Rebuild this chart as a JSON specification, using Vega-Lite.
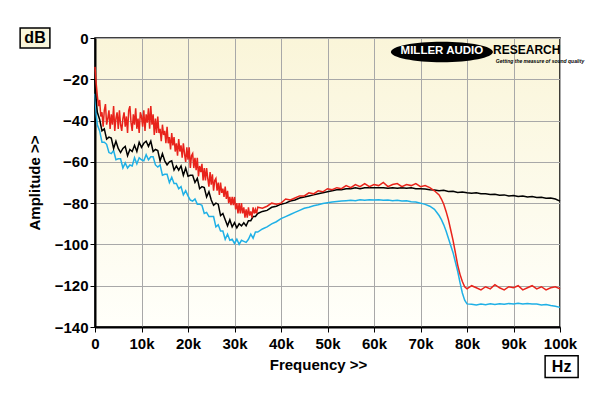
{
"$schema": "https://vega.github.io/schema/vega-lite/v6.json",
"width": 465, "height": 289,
"autosize": "none",
"padding": {"left": 95, "top": 38, "right": 40, "bottom": 69},
"background": "white",
"config": {
 "font": "Liberation Sans",
 "view": {"fill": {"gradient": "linear", "x1": 0, "y1": 0, "x2": 0, "y2": 1, "stops": [{"offset": 0, "color": "#faf5d9"}, {"offset": 1, "color": "#fffffa"}]}, "stroke": "black", "strokeWidth": 1.5},
 "axis": {"gridColor": "#a8a8a8", "gridWidth": 1, "domainColor": "black", "domainWidth": 2, "tickColor": "black", "tickSize": 5, "labelFont": "Liberation Sans", "labelFontWeight": "bold", "labelFontSize": 15, "labelColor": "black", "titleFont": "Liberation Sans", "titleFontWeight": "bold", "titleFontSize": 15, "titleColor": "black"}
},
"datasets": {
"cyan": [{"f":0,"d":-27},{"f":0.25,"d":-37},{"f":0.5,"d":-42},{"f":1,"d":-45},{"f":1.5,"d":-50.5},{"f":2,"d":-50.5},{"f":2.5,"d":-51.5},{"f":3,"d":-55.5},{"f":3.5,"d":-56},{"f":4,"d":-54.5},{"f":4.5,"d":-59},{"f":5,"d":-58.5},{"f":5.5,"d":-58.5},{"f":6,"d":-63},{"f":6.5,"d":-60.5},{"f":7,"d":-63},{"f":7.5,"d":-61.5},{"f":8,"d":-62},{"f":8.5,"d":-58},{"f":9,"d":-61},{"f":9.5,"d":-58},{"f":10,"d":-59},{"f":10.5,"d":-59.5},{"f":11,"d":-56.5},{"f":11.5,"d":-59},{"f":12,"d":-57.5},{"f":12.5,"d":-57.5},{"f":13,"d":-61.5},{"f":13.5,"d":-62.5},{"f":14,"d":-61.5},{"f":14.5,"d":-66.5},{"f":15,"d":-66},{"f":15.5,"d":-66},{"f":16,"d":-70},{"f":16.5,"d":-67.5},{"f":17,"d":-70.5},{"f":17.5,"d":-70.5},{"f":18,"d":-73},{"f":18.5,"d":-72},{"f":19,"d":-76},{"f":19.5,"d":-74},{"f":20,"d":-76.5},{"f":20.5,"d":-78.5},{"f":21,"d":-79},{"f":21.5,"d":-78},{"f":22,"d":-80.5},{"f":22.5,"d":-80.5},{"f":23,"d":-81},{"f":23.5,"d":-85},{"f":24,"d":-84.5},{"f":24.5,"d":-86.5},{"f":25,"d":-86.5},{"f":25.5,"d":-86.5},{"f":26,"d":-91.5},{"f":26.5,"d":-90.5},{"f":27,"d":-93.5},{"f":27.5,"d":-93.5},{"f":28,"d":-97.5},{"f":28.5,"d":-95},{"f":29,"d":-98},{"f":29.5,"d":-97.5},{"f":30,"d":-99.5},{"f":30.5,"d":-97.5},{"f":31,"d":-100},{"f":31.5,"d":-98},{"f":32,"d":-98.5},{"f":32.5,"d":-99},{"f":33,"d":-97.5},{"f":33.5,"d":-95},{"f":34,"d":-97},{"f":34.5,"d":-94},{"f":35,"d":-94},{"f":36,"d":-92.5},{"f":37,"d":-91.5},{"f":38,"d":-90},{"f":39,"d":-89},{"f":40,"d":-87.5},{"f":41,"d":-86.5},{"f":42,"d":-85.5},{"f":43,"d":-84.5},{"f":44,"d":-83.5},{"f":45,"d":-82.5},{"f":46,"d":-82},{"f":47,"d":-81.3},{"f":48,"d":-80.8},{"f":49,"d":-80.2},{"f":50,"d":-79.8},{"f":51,"d":-79.5},{"f":52,"d":-79.2},{"f":53,"d":-79},{"f":54,"d":-78.8},{"f":55,"d":-78.6},{"f":56,"d":-78.8},{"f":57,"d":-78.4},{"f":58,"d":-78.6},{"f":59,"d":-78.3},{"f":60,"d":-78.5},{"f":61,"d":-78.3},{"f":62,"d":-78.6},{"f":63,"d":-78.5},{"f":64,"d":-78.8},{"f":65,"d":-78.6},{"f":66,"d":-79},{"f":67,"d":-78.9},{"f":68,"d":-79.3},{"f":69,"d":-79.5},{"f":70,"d":-80},{"f":71,"d":-80.6},{"f":72,"d":-81.5},{"f":73,"d":-83},{"f":74,"d":-86},{"f":74.5,"d":-88},{"f":75,"d":-90.5},{"f":75.5,"d":-93.5},{"f":76,"d":-97},{"f":76.5,"d":-100.5},{"f":77,"d":-104},{"f":77.5,"d":-108.5},{"f":78,"d":-113},{"f":78.5,"d":-118.5},{"f":79,"d":-123.5},{"f":79.5,"d":-127},{"f":80,"d":-128.8},{"f":81,"d":-129},{"f":82,"d":-129.3},{"f":83,"d":-128.9},{"f":84,"d":-129.2},{"f":85,"d":-128.8},{"f":86,"d":-129.1},{"f":87,"d":-128.7},{"f":88,"d":-129},{"f":89,"d":-128.6},{"f":90,"d":-128.8},{"f":91,"d":-128.5},{"f":92,"d":-128.9},{"f":93,"d":-128.6},{"f":94,"d":-128.8},{"f":95,"d":-128.9},{"f":96,"d":-129.3},{"f":97,"d":-129.1},{"f":98,"d":-129.6},{"f":99,"d":-129.9},{"f":100,"d":-130.5}],
"black": [{"f":0,"d":-20},{"f":0.25,"d":-30},{"f":0.5,"d":-36},{"f":1,"d":-39.5},{"f":1.5,"d":-45},{"f":2,"d":-44},{"f":2.5,"d":-49},{"f":3,"d":-48},{"f":3.5,"d":-48.5},{"f":4,"d":-53.5},{"f":4.5,"d":-50},{"f":5,"d":-53.5},{"f":5.5,"d":-55.5},{"f":6,"d":-53.5},{"f":6.5,"d":-52.5},{"f":7,"d":-57},{"f":7.5,"d":-54},{"f":8,"d":-55},{"f":8.5,"d":-52},{"f":9,"d":-55},{"f":9.5,"d":-50.5},{"f":10,"d":-53},{"f":10.5,"d":-51},{"f":11,"d":-50},{"f":11.5,"d":-52.5},{"f":12,"d":-50},{"f":12.5,"d":-55},{"f":13,"d":-54},{"f":13.5,"d":-54.5},{"f":14,"d":-59.5},{"f":14.5,"d":-56},{"f":15,"d":-59.5},{"f":15.5,"d":-61.5},{"f":16,"d":-60},{"f":16.5,"d":-59.5},{"f":17,"d":-64},{"f":17.5,"d":-62},{"f":18,"d":-64},{"f":18.5,"d":-62},{"f":19,"d":-66.5},{"f":19.5,"d":-63},{"f":20,"d":-67},{"f":20.5,"d":-66.5},{"f":21,"d":-66.5},{"f":21.5,"d":-70},{"f":22,"d":-68},{"f":22.5,"d":-73},{"f":23,"d":-72},{"f":23.5,"d":-72.5},{"f":24,"d":-77},{"f":24.5,"d":-74.5},{"f":25,"d":-78.5},{"f":25.5,"d":-81},{"f":26,"d":-80},{"f":26.5,"d":-80.5},{"f":27,"d":-86},{"f":27.5,"d":-85},{"f":28,"d":-88},{"f":28.5,"d":-91},{"f":29,"d":-88},{"f":29.5,"d":-91.5},{"f":30,"d":-89.5},{"f":30.5,"d":-92},{"f":31,"d":-90},{"f":31.5,"d":-91},{"f":32,"d":-89.5},{"f":32.5,"d":-91},{"f":33,"d":-88.5},{"f":33.5,"d":-88.5},{"f":34,"d":-86.5},{"f":34.5,"d":-86.5},{"f":35,"d":-85},{"f":36,"d":-84},{"f":37,"d":-83.5},{"f":38,"d":-82},{"f":39,"d":-81.5},{"f":40,"d":-80.5},{"f":41,"d":-80},{"f":42,"d":-79},{"f":43,"d":-78.5},{"f":44,"d":-77.5},{"f":45,"d":-77},{"f":46,"d":-76.5},{"f":47,"d":-76},{"f":48,"d":-75.5},{"f":49,"d":-75},{"f":50,"d":-74.5},{"f":51,"d":-74},{"f":52,"d":-73.5},{"f":53,"d":-73.5},{"f":54,"d":-73},{"f":55,"d":-73},{"f":56,"d":-72.5},{"f":57,"d":-73},{"f":58,"d":-72.5},{"f":59,"d":-72.5},{"f":60,"d":-72.5},{"f":61,"d":-72.5},{"f":62,"d":-72.5},{"f":63,"d":-72.8},{"f":64,"d":-72.5},{"f":65,"d":-72.8},{"f":66,"d":-72.5},{"f":67,"d":-72.8},{"f":68,"d":-72.6},{"f":69,"d":-73},{"f":70,"d":-73},{"f":71,"d":-73.2},{"f":72,"d":-73.5},{"f":73,"d":-73.6},{"f":74,"d":-74},{"f":75,"d":-73.8},{"f":76,"d":-74.3},{"f":77,"d":-74.2},{"f":78,"d":-74.8},{"f":79,"d":-74.6},{"f":80,"d":-75},{"f":81,"d":-75.2},{"f":82,"d":-75},{"f":83,"d":-75.5},{"f":84,"d":-75.4},{"f":85,"d":-75.8},{"f":86,"d":-75.7},{"f":87,"d":-76.2},{"f":88,"d":-76},{"f":89,"d":-76.5},{"f":90,"d":-76.3},{"f":91,"d":-76.8},{"f":92,"d":-76.6},{"f":93,"d":-77},{"f":94,"d":-76.8},{"f":95,"d":-77.3},{"f":96,"d":-77.2},{"f":97,"d":-77.6},{"f":98,"d":-77.5},{"f":99,"d":-78},{"f":100,"d":-79}],
"red": [{"f":0,"d":-14},{"f":0.25,"d":-22},{"f":0.5,"d":-28},{"f":0.75,"d":-33},{"f":1,"d":-30},{"f":1.25,"d":-38},{"f":1.5,"d":-36},{"f":1.75,"d":-43},{"f":2,"d":-35},{"f":2.25,"d":-32},{"f":2.5,"d":-42},{"f":2.75,"d":-39},{"f":3,"d":-35},{"f":3.25,"d":-44},{"f":3.5,"d":-37},{"f":3.75,"d":-42},{"f":4,"d":-33},{"f":4.25,"d":-45},{"f":4.5,"d":-39},{"f":4.75,"d":-36},{"f":5,"d":-44},{"f":5.25,"d":-35},{"f":5.5,"d":-42},{"f":5.75,"d":-45},{"f":6,"d":-39},{"f":6.25,"d":-36},{"f":6.5,"d":-43},{"f":6.75,"d":-38},{"f":7,"d":-46},{"f":7.25,"d":-35},{"f":7.5,"d":-33},{"f":7.75,"d":-41},{"f":8,"d":-45},{"f":8.25,"d":-37},{"f":8.5,"d":-42},{"f":8.75,"d":-34},{"f":9,"d":-44},{"f":9.25,"d":-39},{"f":9.5,"d":-46},{"f":9.75,"d":-36},{"f":10,"d":-38},{"f":10.25,"d":-43},{"f":10.5,"d":-35},{"f":10.75,"d":-45},{"f":11,"d":-37},{"f":11.25,"d":-41},{"f":11.5,"d":-34},{"f":11.75,"d":-44},{"f":12,"d":-33},{"f":12.25,"d":-42},{"f":12.5,"d":-37},{"f":12.75,"d":-47},{"f":13,"d":-39},{"f":13.25,"d":-46},{"f":13.5,"d":-38},{"f":13.75,"d":-46},{"f":14,"d":-44},{"f":14.25,"d":-50},{"f":14.5,"d":-42},{"f":14.75,"d":-47},{"f":15,"d":-45},{"f":15.25,"d":-51},{"f":15.5,"d":-43},{"f":15.75,"d":-51},{"f":16,"d":-48},{"f":16.25,"d":-54},{"f":16.5,"d":-46},{"f":16.75,"d":-52},{"f":17,"d":-48},{"f":17.25,"d":-55},{"f":17.5,"d":-51},{"f":17.75,"d":-57},{"f":18,"d":-49},{"f":18.25,"d":-55},{"f":18.5,"d":-52},{"f":18.75,"d":-58},{"f":19,"d":-51},{"f":19.25,"d":-56},{"f":19.5,"d":-60},{"f":19.75,"d":-53},{"f":20,"d":-59},{"f":20.25,"d":-53},{"f":20.5,"d":-63},{"f":20.75,"d":-57},{"f":21,"d":-56},{"f":21.25,"d":-63},{"f":21.5,"d":-58},{"f":21.75,"d":-64},{"f":22,"d":-58},{"f":22.25,"d":-67},{"f":22.5,"d":-62},{"f":22.75,"d":-65},{"f":23,"d":-61},{"f":23.25,"d":-69},{"f":23.5,"d":-63},{"f":23.75,"d":-69},{"f":24,"d":-63},{"f":24.25,"d":-68},{"f":24.5,"d":-72},{"f":24.75,"d":-65},{"f":25,"d":-71},{"f":25.25,"d":-66},{"f":25.5,"d":-74},{"f":25.75,"d":-69},{"f":26,"d":-68},{"f":26.25,"d":-74},{"f":26.5,"d":-70},{"f":26.75,"d":-76},{"f":27,"d":-70},{"f":27.25,"d":-75},{"f":27.5,"d":-73},{"f":27.75,"d":-77},{"f":28,"d":-72},{"f":28.25,"d":-78},{"f":28.5,"d":-74},{"f":28.75,"d":-80},{"f":29,"d":-77},{"f":29.25,"d":-81},{"f":29.5,"d":-77},{"f":29.75,"d":-81},{"f":30,"d":-77},{"f":30.25,"d":-83},{"f":30.5,"d":-80},{"f":30.75,"d":-85},{"f":31,"d":-80},{"f":31.25,"d":-85},{"f":31.5,"d":-80},{"f":31.75,"d":-85},{"f":32,"d":-82},{"f":32.25,"d":-87},{"f":32.5,"d":-83},{"f":32.75,"d":-87},{"f":33,"d":-82},{"f":33.25,"d":-86},{"f":33.5,"d":-84},{"f":33.75,"d":-87},{"f":34,"d":-82},{"f":34.25,"d":-85},{"f":34.5,"d":-83},{"f":34.75,"d":-85},{"f":35,"d":-82},{"f":36,"d":-82.5},{"f":37,"d":-81.5},{"f":38,"d":-80},{"f":39,"d":-80.5},{"f":40,"d":-80},{"f":41,"d":-78},{"f":42,"d":-78.5},{"f":43,"d":-77.5},{"f":44,"d":-76.5},{"f":45,"d":-76.5},{"f":46,"d":-75},{"f":47,"d":-75.5},{"f":48,"d":-74},{"f":49,"d":-74.5},{"f":50,"d":-73},{"f":51,"d":-73.5},{"f":52,"d":-72.5},{"f":53,"d":-73},{"f":54,"d":-71.5},{"f":55,"d":-72.5},{"f":56,"d":-71},{"f":57,"d":-72},{"f":58,"d":-70.5},{"f":59,"d":-72},{"f":60,"d":-71},{"f":61,"d":-71.5},{"f":62,"d":-70},{"f":63,"d":-72},{"f":64,"d":-71},{"f":65,"d":-70.5},{"f":66,"d":-72},{"f":67,"d":-71},{"f":68,"d":-71.5},{"f":69,"d":-70.5},{"f":70,"d":-72},{"f":71,"d":-71.5},{"f":72,"d":-72.5},{"f":73,"d":-74},{"f":74,"d":-76},{"f":74.5,"d":-78},{"f":75,"d":-80.5},{"f":75.5,"d":-84},{"f":76,"d":-88},{"f":76.5,"d":-93},{"f":77,"d":-98},{"f":77.5,"d":-104},{"f":78,"d":-110},{"f":78.5,"d":-114.5},{"f":79,"d":-118},{"f":79.5,"d":-120.5},{"f":80,"d":-121.5},{"f":81,"d":-120},{"f":82,"d":-121},{"f":83,"d":-122},{"f":84,"d":-120.5},{"f":85,"d":-121.5},{"f":86,"d":-119.5},{"f":87,"d":-121},{"f":88,"d":-122},{"f":89,"d":-120.5},{"f":90,"d":-121},{"f":91,"d":-120},{"f":92,"d":-122},{"f":93,"d":-121},{"f":94,"d":-120},{"f":95,"d":-121.5},{"f":96,"d":-120.5},{"f":97,"d":-122},{"f":98,"d":-121},{"f":99,"d":-120.5},{"f":100,"d":-121.5}]
},
"layer": [
 {"data": {"name": "cyan"}, "mark": {"type": "line", "color": "#1fb0e6", "strokeWidth": 1.5},
  "encoding": {
   "x": {"field": "f", "type": "quantitative", "scale": {"domain": [0, 100], "nice": false},
    "axis": {"values": [0,10,20,30,40,50,60,70,80,90,100], "labelExpr": "datum.value == 0 ? '0' : datum.value + 'k'", "title": "Frequency >>", "labelPadding": 4, "titlePadding": 6, "titleX": 223, "labelFlush": false}},
   "y": {"field": "d", "type": "quantitative", "scale": {"domain": [-140, 0], "nice": false},
    "axis": {"values": [-140,-120,-100,-80,-60,-40,-20,0], "title": "Amplitude >>", "labelPadding": 2, "titlePadding": 12, "labelFlush": false}}
  }},
 {"data": {"name": "black"}, "mark": {"type": "line", "color": "#000000", "strokeWidth": 1.5},
  "encoding": {"x": {"field": "f", "type": "quantitative", "scale": {"domain": [0, 100], "nice": false}}, "y": {"field": "d", "type": "quantitative", "scale": {"domain": [-140, 0], "nice": false}}}},
 {"data": {"name": "red"}, "mark": {"type": "line", "color": "#e8231b", "strokeWidth": 1.5},
  "encoding": {"x": {"field": "f", "type": "quantitative", "scale": {"domain": [0, 100], "nice": false}}, "y": {"field": "d", "type": "quantitative", "scale": {"domain": [-140, 0], "nice": false}}}},
 {"data": {"values": [{}]}, "mark": {"type": "rect", "fill": "#f9f5da", "stroke": "black", "strokeWidth": 1.5, "clip": false},
  "encoding": {"x": {"datum": -16.1, "type": "quantitative", "scale": {"domain": [0, 100], "nice": false}}, "x2": {"datum": -9.7}, "y": {"datum": 4.8, "type": "quantitative", "scale": {"domain": [-140, 0], "nice": false}}, "y2": {"datum": -4.8}}},
 {"data": {"values": [{}]}, "mark": {"type": "text", "text": "dB", "font": "Liberation Sans", "fontWeight": "bold", "fontSize": 16, "align": "center", "baseline": "middle", "color": "black"},
  "encoding": {"x": {"datum": -12.9, "type": "quantitative", "scale": {"domain": [0, 100], "nice": false}}, "y": {"datum": 0, "type": "quantitative", "scale": {"domain": [-140, 0], "nice": false}}}},
 {"data": {"values": [{}]}, "mark": {"type": "rect", "fill": "#ffffff", "stroke": "black", "strokeWidth": 1.5, "clip": false},
  "encoding": {"x": {"datum": 96.8, "type": "quantitative", "scale": {"domain": [0, 100], "nice": false}}, "x2": {"datum": 103.9}, "y": {"datum": -153.9, "type": "quantitative", "scale": {"domain": [-140, 0], "nice": false}}, "y2": {"datum": -164.5}}},
 {"data": {"values": [{}]}, "mark": {"type": "text", "text": "Hz", "font": "Liberation Sans", "fontWeight": "bold", "fontSize": 16, "align": "center", "baseline": "middle", "color": "black"},
  "encoding": {"x": {"datum": 100.35, "type": "quantitative", "scale": {"domain": [0, 100], "nice": false}}, "y": {"datum": -159.2, "type": "quantitative", "scale": {"domain": [-140, 0], "nice": false}}}},
 {"data": {"values": [{}]}, "mark": {"type": "point", "shape": "M -1 0 A 1 0.2 0 1 1 1 0 A 1 0.2 0 1 1 -1 0 Z", "filled": true, "color": "black", "opacity": 1, "size": 10400},
  "encoding": {"x": {"datum": 74.6, "type": "quantitative", "scale": {"domain": [0, 100], "nice": false}}, "y": {"datum": -6.8, "type": "quantitative", "scale": {"domain": [-140, 0], "nice": false}}}},
 {"data": {"values": [{}]}, "mark": {"type": "text", "text": "MILLER AUDIO", "font": "Liberation Sans", "fontWeight": "bold", "fontSize": 11.5, "align": "center", "baseline": "middle", "color": "white"},
  "encoding": {"x": {"datum": 74.6, "type": "quantitative", "scale": {"domain": [0, 100], "nice": false}}, "y": {"datum": -6.5, "type": "quantitative", "scale": {"domain": [-140, 0], "nice": false}}}},
 {"data": {"values": [{}]}, "mark": {"type": "text", "text": "RESEARCH", "font": "Liberation Sans", "fontWeight": "bold", "fontSize": 12, "align": "left", "baseline": "middle", "color": "black"},
  "encoding": {"x": {"datum": 85.6, "type": "quantitative", "scale": {"domain": [0, 100], "nice": false}}, "y": {"datum": -5.9, "type": "quantitative", "scale": {"domain": [-140, 0], "nice": false}}}},
 {"data": {"values": [{}]}, "mark": {"type": "text", "text": "Getting the measure of sound quality", "font": "Liberation Sans", "fontWeight": "bold", "fontStyle": "italic", "fontSize": 5, "align": "left", "baseline": "middle", "color": "black"},
  "encoding": {"x": {"datum": 86.2, "type": "quantitative", "scale": {"domain": [0, 100], "nice": false}}, "y": {"datum": -10.9, "type": "quantitative", "scale": {"domain": [-140, 0], "nice": false}}}}
]
}
